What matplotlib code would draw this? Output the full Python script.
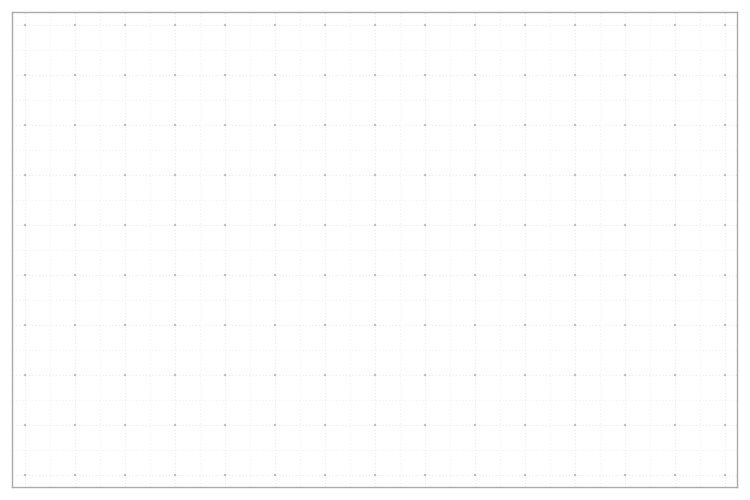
import numpy as np
import matplotlib
matplotlib.use("Agg")
import matplotlib.pyplot as plt

# === Grid positions (chart has no data series, only the grid) ===
x_major = list(range(0, 15))
y_major = list(range(0, 10))
x_minor = [x + 0.5 for x in range(0, 14)]
y_minor = [y + 0.5 for y in range(0, 9)]

fig = plt.figure(figsize=(7.5, 5), dpi=100)
ax = fig.add_axes([12 / 750, 13 / 500, 725 / 750, 475 / 500])

ax.set_xlim(-0.26, 14.24)
ax.set_ylim(-0.24, 9.26)

ax.set_xticks(x_major)
ax.set_yticks(y_major)
ax.set_xticks(x_minor, minor=True)
ax.set_yticks(y_minor, minor=True)
ax.tick_params(which="both", length=0, labelbottom=False, labelleft=False)

ax.grid(which="major", color="#ebebeb", linestyle=(0, (1, 2)), linewidth=0.8)
ax.grid(which="minor", color="#f3f3f3", linestyle=(0, (1, 2)), linewidth=0.8)
ax.set_axisbelow(True)

# darker dots where major lines cross
gx, gy = np.meshgrid(x_major, y_major)
ax.scatter(gx.ravel(), gy.ravel(), s=3, color="#c0c0c0", marker="s", linewidths=0, zorder=2)

for spine in ax.spines.values():
    spine.set_color("#aaaaaa")
    spine.set_linewidth(1.0)

fig.savefig("out.png", dpi=100)
